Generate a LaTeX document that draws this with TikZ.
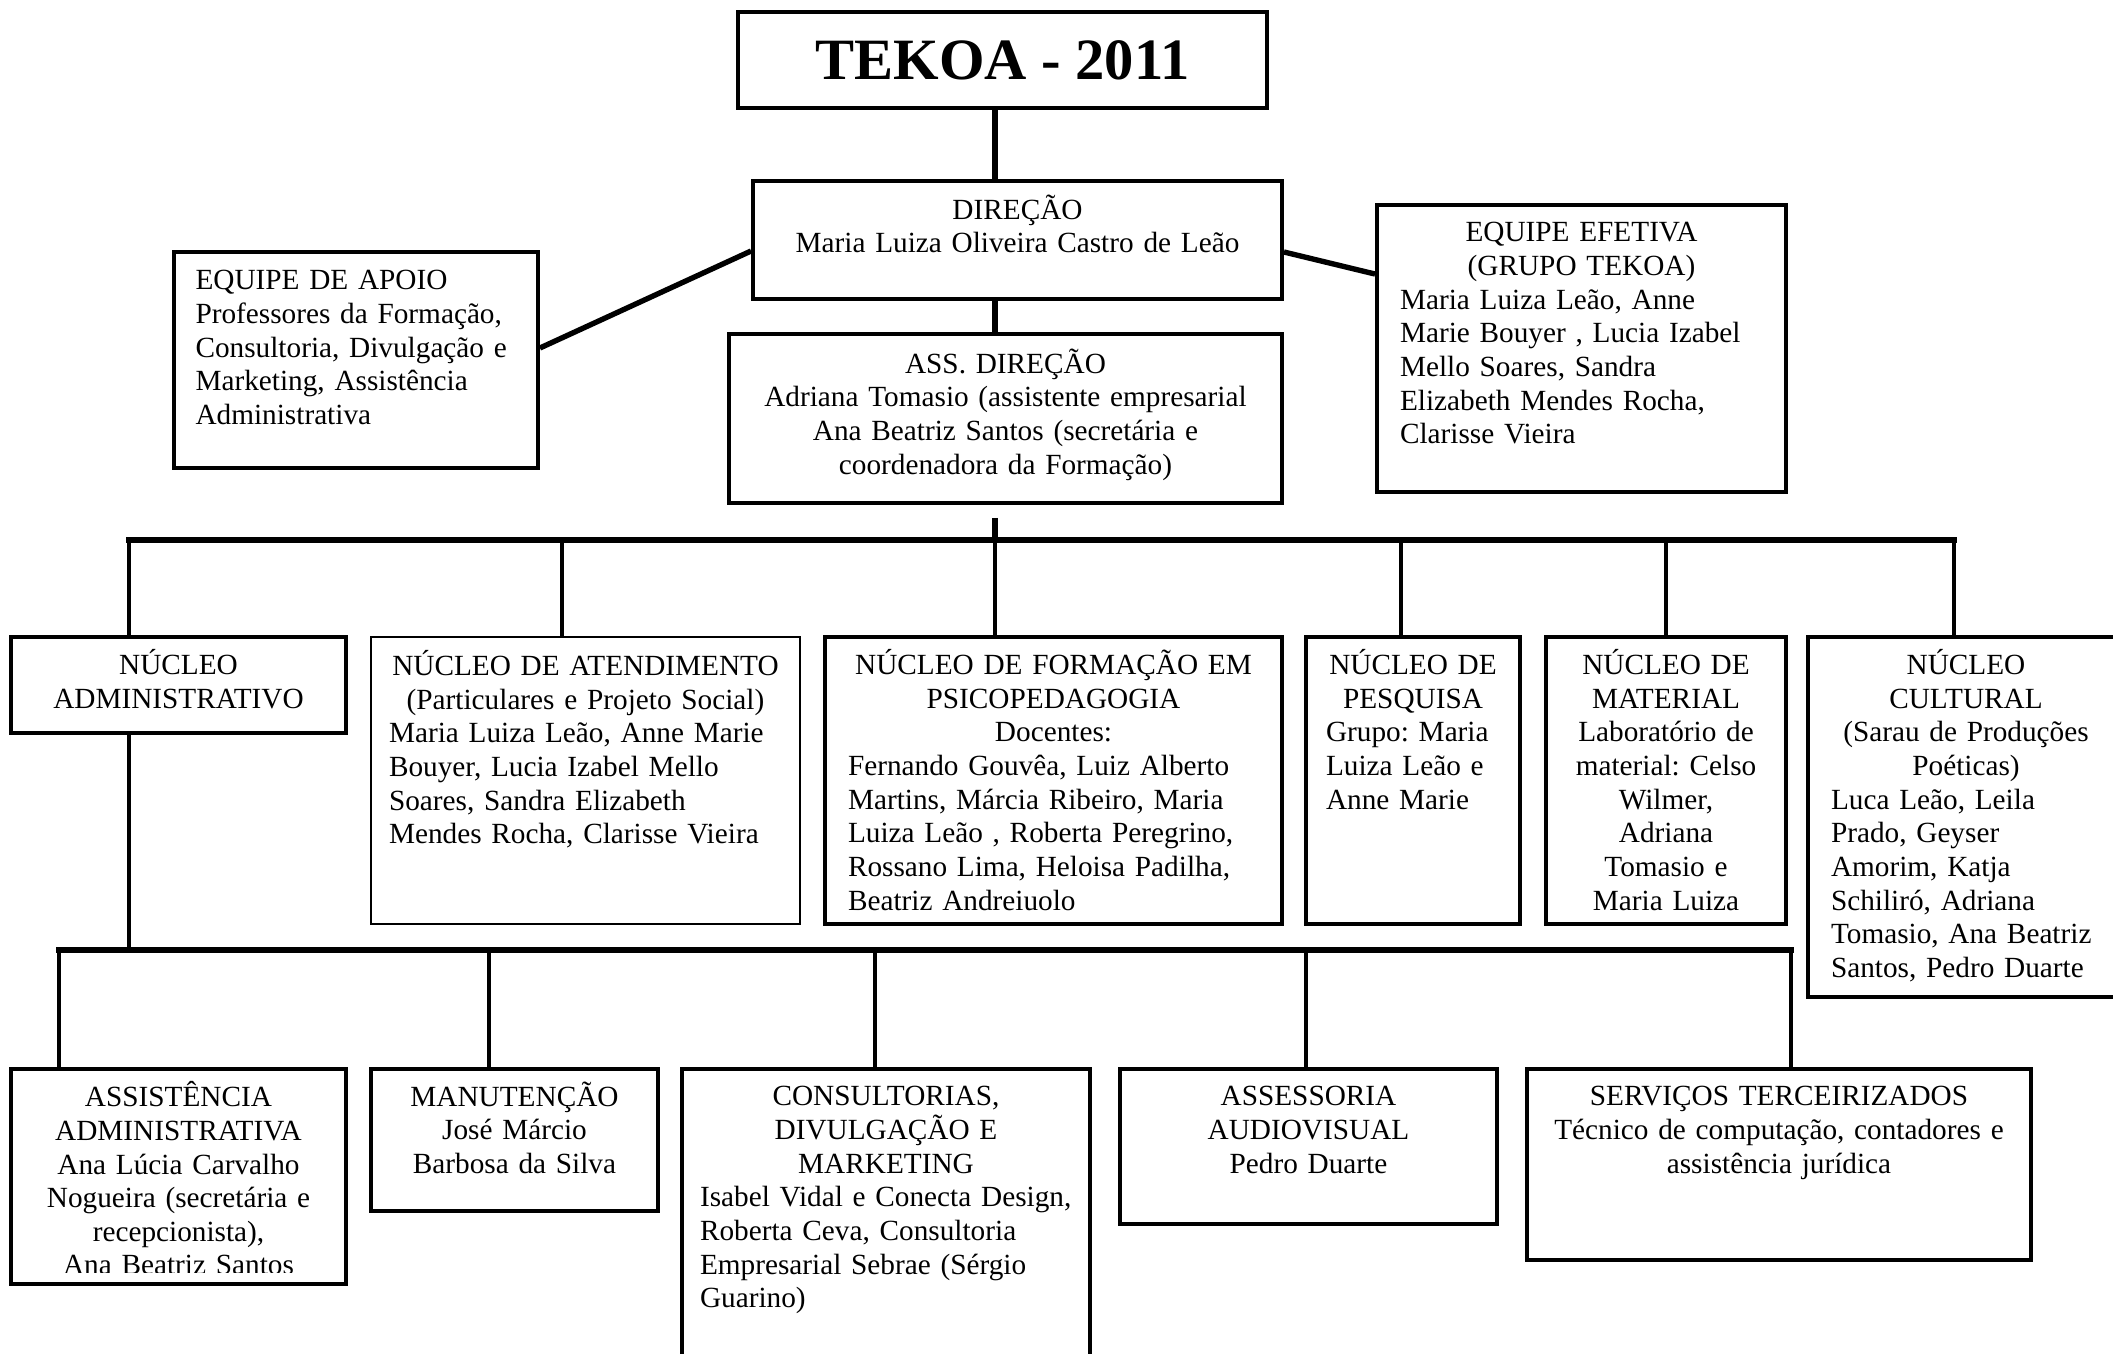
\documentclass[tikz,border=0pt]{standalone}
\usepackage{fontspec}
\setmainfont{Liberation Serif}
\usetikzlibrary{calc,fit,positioning}
\frenchspacing

\tikzset{
	box/.style={draw, line width=1.6pt, inner sep=0pt},
	thinbox/.style={box, line width=0.8pt},
	txt/.style={inner sep=0pt, anchor=north, align=center,
		font={\fontsize{12}{13.8}\selectfont\parindent=0pt}},
	link/.style={line width=2.2pt},
	bus/.style={line width=2.6pt, line cap=rect},
	drop/.style={line width=1.7pt},
}

\begin{document}
\begin{tikzpicture}[x=0.41pt, y=-0.41pt]
	\path[use as bounding box, fill=white] (0,0) rectangle (2113,1354);

	% top of the chart
	\node[box, fit={(738,12) (1267,108)}] (tekoa) {};
	\node[inner sep=0pt, font=\fontsize{24}{28}\selectfont\bfseries] (title) at (tekoa) {TEKOA - 2011};

	\node[box, fit={(753,181) (1282,299)}] (dir) {};
	\node[txt, text width=200.5pt] (dirT) at ($(dir.north)+(0,15)$) {DIREÇÃO\\Maria Luiza Oliveira Castro de Leão};

	\node[box, fit={(174,252) (538,468)}] (apoio) {};
	\node[txt, anchor=north west, text width=130.4pt, align=left] (apoioT) at ($(apoio.north west)+(23,20)$)
		{EQUIPE DE APOIO\\Professores da Formação,\\Consultoria, Divulgação e\\Marketing, Assistência\\Administrativa};

	\node[box, fit={(1377,205) (1786,492)}] (efet) {};
	\node[txt, text width=148.8pt, align=left] (efetT) at ($(efet.north)+(0,19)$)
		{{\centering EQUIPE EFETIVA\\(GRUPO TEKOA)\par}Maria Luiza Leão, Anne\\Marie Bouyer , Lucia Izabel\\Mello Soares, Sandra\\Elizabeth Mendes Rocha,\\Clarisse Vieira};

	\node[box, fit={(729,334) (1282,503)}] (ass) {};
	\node[txt, text width=210.3pt] (assT) at ($(ass.north)+(0,16)$)
		{ASS. DIREÇÃO\\Adriana Tomasio (assistente empresarial\\Ana Beatriz Santos (secretária e\\coordenadora da Formação)};

	% nucleos
	\node[box, fit={(11,637) (346,733)}] (adm) {};
	\node[txt, text width=121pt] (admT) at ($(adm.north)+(0,14)$) {NÚCLEO\\ADMINISTRATIVO};

	\node[thinbox, fit={(371,637) (800,924)}] (aten) {};
	\node[txt, text width=161.1pt, align=left] (atenT) at ($(aten.north)+(0,14)$)
		{{\centering NÚCLEO DE ATENDIMENTO\\(Particulares e Projeto Social)\par}Maria Luiza Leão, Anne Marie\\Bouyer, Lucia Izabel Mello\\Soares, Sandra Elizabeth\\Mendes Rocha, Clarisse Vieira};

	\node[box, fit={(825,637) (1282,924)}] (form) {};
	\node[txt, text width=168.5pt, align=left] (formT) at ($(form.north)+(0,14)$)
		{{\centering NÚCLEO DE FORMAÇÃO EM\\PSICOPEDAGOGIA\\Docentes:\par}Fernando Gouvêa, Luiz Alberto\\Martins, Márcia Ribeiro, Maria\\Luiza Leão , Roberta Peregrino,\\Rossano Lima, Heloisa Padilha,\\Beatriz Andreiuolo};

	\node[box, fit={(1306,637) (1520,924)}] (pesq) {};
	\node[txt, text width=71.3pt, align=left] (pesqT) at ($(pesq.north)+(0,14)$)
		{{\centering NÚCLEO DE\\PESQUISA\par}Grupo: Maria\\Luiza Leão e\\Anne Marie};

	\node[box, fit={(1546,637) (1786,924)}] (mate) {};
	\node[txt, text width=82pt] (mateT) at ($(mate.north)+(0,14)$)
		{NÚCLEO DE\\MATERIAL\\Laboratório de\\material: Celso\\Wilmer,\\Adriana\\Tomasio e\\Maria Luiza};

	\node[box, fit={(1808,637) (2124,997)}] (cult) {};
	\node[txt, text width=110.7pt, align=left] (cultT) at ($(cult.north)+(0,14)$)
		{{\centering NÚCLEO\\CULTURAL\\(Sarau de Produções\\Poéticas)\par}Luca Leão, Leila\\Prado, Geyser\\Amorim, Katja\\Schiliró, Adriana\\Tomasio, Ana Beatriz\\Santos, Pedro Duarte};

	% under the nucleo administrativo
	\node[box, fit={(11,1069) (346,1284)}] (asis) {};
	\begin{scope}
		\clip (asis.north west) rectangle ($(asis.south east)+(0,-13)$);
		\node[txt, text width=121pt] (asisT) at ($(asis.north)+(0,14)$)
			{ASSISTÊNCIA\\ADMINISTRATIVA\\Ana Lúcia Carvalho\\Nogueira (secretária e\\recepcionista),\\Ana Beatriz Santos};
	\end{scope}

	\node[box, fit={(371,1069) (658,1211)}] (manu) {};
	\node[txt, text width=101.3pt] (manuT) at ($(manu.north)+(0,14)$) {MANUTENÇÃO\\José Márcio\\Barbosa da Silva};

	\node[box, fit={(682,1069) (1090,1380)}] (cons) {};
	\node[txt, text width=152.5pt, align=left] (consT) at ($(cons.north)+(0,19)$)
		{{\centering CONSULTORIAS,\\DIVULGAÇÃO E\\MARKETING\par}Isabel Vidal e Conecta Design,\\Roberta Ceva, Consultoria\\Empresarial Sebrae (Sérgio\\Guarino)};

	\node[box, fit={(1120,1069) (1497,1224)}] (audi) {};
	\node[txt, text width=138.2pt] (audiT) at ($(audi.north)+(0,19)$) {ASSESSORIA\\AUDIOVISUAL\\Pedro Duarte};

	\node[box, fit={(1527,1069) (2031,1260)}] (serv) {};
	\node[txt, text width=190.2pt] (servT) at ($(serv.north)+(0,19)$)
		{SERVIÇOS TERCEIRIZADOS\\Técnico de computação, contadores e\\assistência jurídica};

	% spine
	\coordinate (s0) at (995,108);
	\coordinate (b1) at (995,540);
	\draw[link] (s0) -- (s0 |- dir.north);
	\draw[link] (s0 |- dir.south) -- (s0 |- ass.north);
	\draw[link] ($(s0 |- ass.south)+(0,13)$) -- (b1);
	\draw[link] ($(apoio.east)+(0,-12)$) -- ($(dir.west)+(0,11)$);
	\draw[link] ($(dir.east)+(0,12)$) -- ($(efet.north west)+(0,71)$);

	% first bus
	\foreach \n/\x in {adm/129, aten/562, form/995, pesq/1401, mate/1666, cult/1954}{
		\coordinate (t-\n) at (\x,540);
		\draw[drop] (t-\n) -- (t-\n |- \n.north);
	}
	\draw[bus] (t-adm) -- (t-cult);

	% second bus
	\coordinate (b2) at (129,950);
	\draw[drop] (t-adm |- adm.south) -- (b2);
	\foreach \n/\x in {asis/59, manu/489, cons/875, audi/1306, serv/1791}{
		\coordinate (u-\n) at (\x,950);
		\draw[drop] (u-\n) -- (u-\n |- \n.north);
	}
	\draw[bus] (u-asis) -- (u-serv);
\end{tikzpicture}
\end{document}
